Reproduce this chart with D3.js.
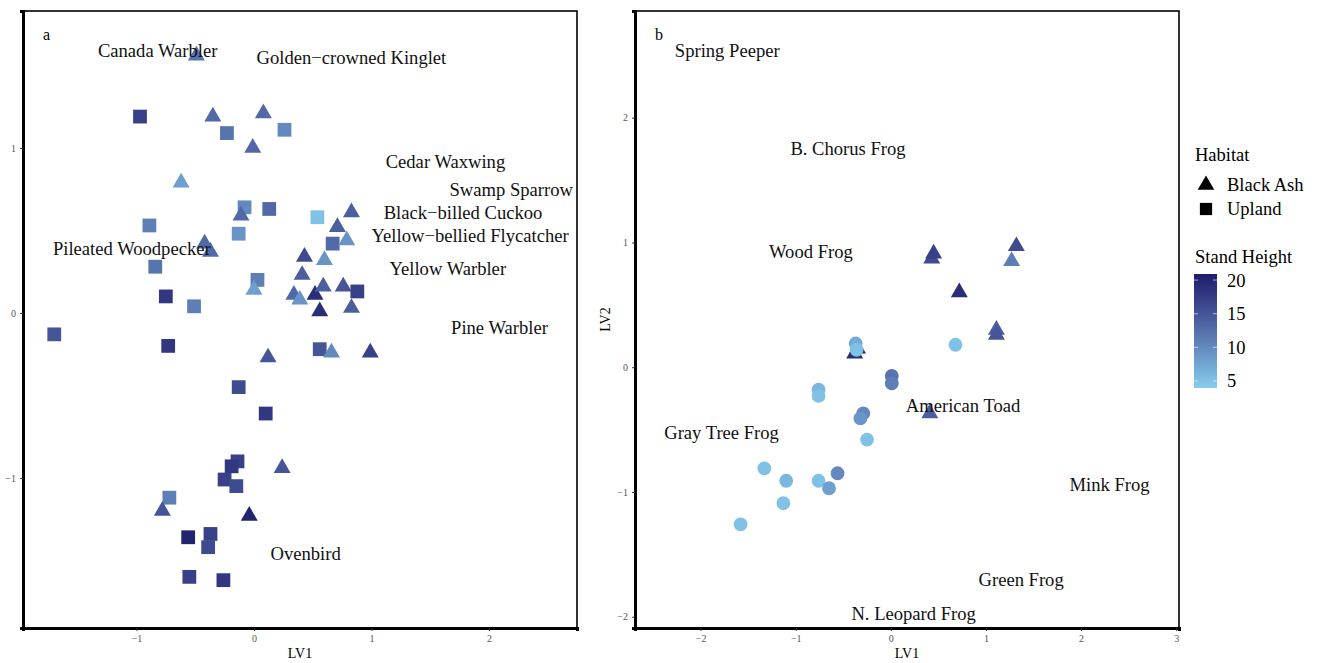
<!DOCTYPE html>
<html>
<head>
<meta charset="utf-8">
<script src="https://cdn.jsdelivr.net/npm/d3@7"></script>
<style>
  body { margin: 0; background: #fff; }
  text { font-family: "Liberation Serif", "Times New Roman", serif; }
</style>
</head>
<body>
<div id="chart"></div>
<script>
// ---- panel a: birds ----
const birdX = [-0.49, -0.97, -0.35, 0.08, -0.23, 0.26, -0.01, -0.62, -0.08, -0.11, 0.13, 0.54, -0.89, -0.13,
  -0.42, -0.37, -0.84, 0.43, 0.60, 0.03, 0.00, 0.41, -0.75, -0.51, 0.34, 0.39, 0.52, 0.56, 0.59,
  0.83, 0.71, 0.67, 0.79, 0.76, 0.88, 0.83, -1.70, -0.73, 0.56, 0.66, 0.99, 0.12, -0.13, 0.10,
  -0.14, -0.19, 0.24, -0.25, -0.15, -0.72, -0.78, -0.04, -0.56, -0.37, -0.39, -0.55, -0.26];
const birdY = [1.56, 1.19, 1.19, 1.21, 1.09, 1.11, 1.00, 0.79, 0.64, 0.59, 0.63, 0.58, 0.53, 0.48,
  0.42, 0.37, 0.28, 0.34, 0.32, 0.20, 0.14, 0.23, 0.10, 0.04, 0.11, 0.08, 0.11, 0.01, 0.16,
  0.61, 0.52, 0.42, 0.44, 0.16, 0.13, 0.03, -0.13, -0.20, -0.22, -0.24, -0.24, -0.27, -0.45, -0.61,
  -0.90, -0.93, -0.94, -1.01, -1.05, -1.12, -1.20, -1.23, -1.36, -1.34, -1.42, -1.60, -1.62];
const birdHabitat = ['T', 'S', 'T', 'T', 'S', 'S', 'T', 'T', 'S', 'T', 'S', 'S', 'S', 'S',
  'T', 'T', 'S', 'T', 'T', 'S', 'T', 'T', 'S', 'S', 'T', 'T', 'T', 'T', 'T',
  'T', 'T', 'S', 'T', 'T', 'S', 'T', 'S', 'S', 'S', 'T', 'T', 'T', 'S', 'S',
  'S', 'S', 'T', 'S', 'S', 'S', 'T', 'T', 'S', 'S', 'S', 'S', 'S'];
const birdHeight = [12, 17, 13, 13, 12, 10, 13, 8, 10, 13, 13, 5, 11, 9,
  13, 13, 12, 16, 9, 11, 8, 14, 18, 11, 13, 9, 19, 19, 14,
  14, 14, 13, 9, 15, 17, 14, 15, 18, 15, 10, 17, 15, 16, 18,
  17, 18, 15, 17, 16, 11, 15, 20, 20, 17, 16, 17, 18];

const birdNames = ['Canada Warbler', 'Golden\u2212crowned Kinglet', 'Cedar Waxwing', 'Swamp Sparrow',
  'Black\u2212billed Cuckoo', 'Yellow\u2212bellied Flycatcher', 'Yellow Warbler', 'Pine Warbler',
  'Pileated Woodpecker', 'Ovenbird'];
const birdNameX = [-0.82, 0.83, 1.63, 2.19, 1.78, 1.84, 1.65, 2.09, -1.04, 0.44];
const birdNameY = [1.59, 1.55, 0.92, 0.75, 0.61, 0.47, 0.27, -0.09, 0.39, -1.46];

// ---- panel b: frogs ----
const frogX = [0.43, 0.45, 1.32, 1.27, 0.72, 1.11, 1.11, 0.68, -0.35, -0.38, -0.37, -0.36, 0.01, 0.01,
  -0.76, -0.76, -0.29, -0.32, 0.41, -0.25, -1.33, -1.10, -0.76, -0.56, -0.65, -1.13, -1.58];
const frogY = [0.87, 0.91, 0.97, 0.85, 0.60, 0.30, 0.26, 0.18, 0.15, 0.11, 0.19, 0.14, -0.07, -0.13,
  -0.18, -0.23, -0.37, -0.41, -0.37, -0.58, -0.81, -0.91, -0.91, -0.85, -0.97, -1.09, -1.26];
const frogHabitat = ['T', 'T', 'T', 'T', 'T', 'T', 'T', 'C', 'T', 'T', 'C', 'C', 'C', 'C',
  'C', 'C', 'C', 'C', 'T', 'C', 'C', 'C', 'C', 'C', 'C', 'C', 'C'];
const frogHeight = [16, 17, 16, 11, 19, 14, 15, 5, 20, 19, 7, 5, 12, 11,
  6, 5, 10, 9, 14, 5, 5, 6, 5, 10, 8, 5, 5];

const frogNames = ['Spring Peeper', 'B. Chorus Frog', 'Wood Frog', 'American Toad', 'Gray Tree Frog',
  'Mink Frog', 'Green Frog', 'N. Leopard Frog'];
const frogNameX = [-1.72, -0.45, -0.84, 0.76, -1.78, 2.30, 1.37, 0.24];
const frogNameY = [2.54, 1.75, 0.93, -0.31, -0.52, -0.94, -1.70, -1.97];

// ---- legend ----
const habitatLabels = ['Black Ash', 'Upland'];
const heightTicks = [5, 10, 15, 20];
const heightDomain = [3.96, 20.9];

const width = 1317;
const height = 663;

const svg = d3.select('#chart')
  .append('svg')
  .attr('width', width)
  .attr('height', height);

const color = d3.scaleLinear()
  .domain(heightDomain)
  .range(['#86cdee', '#1b1c6b'])
  .interpolate(d3.interpolateLab);

const symbolFor = {
  T: d3.symbol().type(d3.symbolTriangle).size(125)(),
  S: d3.symbol().type(d3.symbolSquare).size(190)(),
  C: d3.symbol().type(d3.symbolCircle).size(150)()
};

const drawPanel = (cfg) => {
  const x = d3.scaleLinear().domain(cfg.xDomain).range([cfg.left, cfg.right]);
  const y = d3.scaleLinear().domain(cfg.yDomain).range([cfg.bottom, cfg.top]);
  const g = svg.append('g');

  // thin outer frame
  g.append('rect')
    .attr('x', cfg.left)
    .attr('y', cfg.top)
    .attr('width', cfg.right - cfg.left)
    .attr('height', cfg.bottom - cfg.top)
    .attr('fill', 'none')
    .attr('stroke', '#000')
    .attr('stroke-width', 1.6);

  const fmt = d3.format('d');
  const xAxis = g.append('g')
    .attr('transform', `translate(0,${cfg.bottom})`)
    .call(d3.axisBottom(x).tickValues(cfg.xTicks).tickFormat(fmt).tickSize(3).tickPadding(4));
  const yAxis = g.append('g')
    .attr('transform', `translate(${cfg.left},0)`)
    .call(d3.axisLeft(y).tickValues(cfg.yTicks).tickFormat(fmt).tickSize(3).tickPadding(4));

  [xAxis, yAxis].forEach(a => {
    a.select('.domain').attr('stroke', '#000').attr('stroke-width', 3);
    a.selectAll('.tick line').attr('stroke', '#333');
    a.selectAll('.tick text')
      .attr('fill', '#555')
      .style('font-family', '"Liberation Serif", serif')
      .style('font-size', '10px');
  });

  // points
  g.append('g')
    .selectAll('path')
    .data(cfg.px.map((d, i) => ({ x: d, y: cfg.py[i], h: cfg.hab[i], z: cfg.ht[i] })))
    .enter()
    .append('path')
    .attr('d', d => symbolFor[d.h])
    .attr('transform', d => `translate(${x(d.x)},${y(d.y)})`)
    .attr('fill', d => color(d.z));

  // species labels
  g.append('g')
    .selectAll('text')
    .data(cfg.names)
    .enter()
    .append('text')
    .attr('x', (d, i) => x(cfg.nx[i]))
    .attr('y', (d, i) => y(cfg.ny[i]))
    .attr('text-anchor', 'middle')
    .attr('dominant-baseline', 'central')
    .style('font-size', '18.6px')
    .style('fill', '#111')
    .text(d => d);

  // panel letter
  g.append('text')
    .attr('x', cfg.left + 20)
    .attr('y', cfg.top + 29)
    .style('font-size', '16px')
    .text(cfg.letter);

  // axis titles
  g.append('text')
    .attr('x', (cfg.left + cfg.right) / 2)
    .attr('y', 658)
    .attr('text-anchor', 'middle')
    .style('font-size', '14px')
    .text('LV1');

  if (cfg.ylab) {
    g.append('text')
      .attr('transform', `translate(${cfg.left - 25},${(cfg.top + cfg.bottom) / 2}) rotate(-90)`)
      .attr('text-anchor', 'middle')
      .style('font-size', '14px')
      .text(cfg.ylab);
  }
};

drawPanel({
  letter: 'a', left: 23, right: 577, top: 11, bottom: 628,
  xDomain: [-1.966, 2.75], yDomain: [-1.91, 1.83],
  xTicks: [-1, 0, 1, 2], yTicks: [-1, 0, 1],
  px: birdX, py: birdY, hab: birdHabitat, ht: birdHeight,
  names: birdNames, nx: birdNameX, ny: birdNameY
});

drawPanel({
  letter: 'b', left: 635, right: 1179, top: 11, bottom: 628,
  xDomain: [-2.69, 3.03], yDomain: [-2.09, 2.855],
  xTicks: [-2, -1, 0, 1, 2, 3], yTicks: [-2, -1, 0, 1, 2],
  px: frogX, py: frogY, hab: frogHabitat, ht: frogHeight,
  names: frogNames, nx: frogNameX, ny: frogNameY, ylab: 'LV2'
});

// ---- legends ----
const leg = svg.append('g');
leg.append('text')
  .attr('x', 1195).attr('y', 161)
  .style('font-size', '18.5px')
  .text('Habitat');

const habG = leg.selectAll('.hab')
  .data(habitatLabels)
  .enter()
  .append('g')
  .attr('transform', (d, i) => `translate(1206,${185 + i * 24})`);
habG.append('path')
  .attr('d', (d, i) => i === 0 ? d3.symbol().type(d3.symbolTriangle).size(120)() : d3.symbol().type(d3.symbolSquare).size(150)())
  .attr('fill', '#000');
habG.append('text')
  .attr('x', 21)
  .attr('dy', '0.35em')
  .style('font-size', '18.5px')
  .text(d => d);

leg.append('text')
  .attr('x', 1195).attr('y', 263)
  .style('font-size', '18.5px')
  .text('Stand Height');

const barTop = 274, barBottom = 388, barLeft = 1194, barW = 23;
const barY = d3.scaleLinear().domain(heightDomain).range([barBottom, barTop]);

const defs = svg.append('defs');
const grad = defs.append('linearGradient')
  .attr('id', 'hgrad')
  .attr('x1', 0).attr('y1', 1).attr('x2', 0).attr('y2', 0);
d3.range(0, 1.0001, 0.1).forEach(t => {
  grad.append('stop')
    .attr('offset', t)
    .attr('stop-color', color(heightDomain[0] + t * (heightDomain[1] - heightDomain[0])));
});
leg.append('rect')
  .attr('x', barLeft).attr('y', barTop)
  .attr('width', barW).attr('height', barBottom - barTop)
  .attr('fill', 'url(#hgrad)');

const tk = leg.selectAll('.htick')
  .data(heightTicks)
  .enter()
  .append('g')
  .attr('transform', d => `translate(0,${barY(d)})`);
tk.append('line')
  .attr('x1', barLeft).attr('x2', barLeft + 4)
  .attr('stroke', '#fff').attr('stroke-opacity', 0.6);
tk.append('line')
  .attr('x1', barLeft + barW - 4).attr('x2', barLeft + barW)
  .attr('stroke', '#fff').attr('stroke-opacity', 0.6);
tk.append('text')
  .attr('x', 1227)
  .attr('dy', '0.35em')
  .style('font-size', '18.5px')
  .text(d => d);
</script>
</body>
</html>
